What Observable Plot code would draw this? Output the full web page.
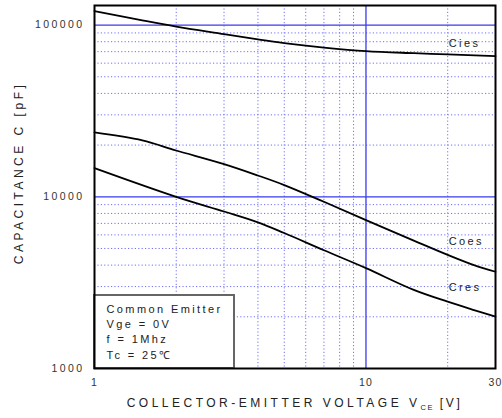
<!DOCTYPE html>
<html><head><meta charset="utf-8">
<script src="https://cdn.jsdelivr.net/npm/d3@7"></script>
<script src="https://cdn.jsdelivr.net/npm/@observablehq/plot@0.6"></script>
<style>body{margin:0;background:#fff}</style>
</head><body><div id="chart"></div>
<script>
// ---- data ----
const xTicks = [1, 10, 30];
const yTicks = [1000, 10000, 100000];
const xMajor = [10];
const yMajor = [10000, 100000];
const xMinor = [2, 3, 4, 5, 6, 7, 8, 9, 20];
const yMinor = [2000, 3000, 4000, 5000, 6000, 7000, 8000, 9000, 20000, 30000, 40000, 50000, 60000, 70000, 80000, 90000];

const ciesV = [1, 1.5, 2, 3, 4, 5, 7, 10, 15, 20, 30];
const ciesC = [120700, 106500, 98000, 88600, 82500, 78500, 74000, 70500, 68600, 67500, 66000];
const coesV = [1, 1.5, 2, 3, 4, 5, 7, 10, 15, 20, 25, 30];
const coesC = [23700, 21300, 18600, 15500, 13300, 11700, 9350, 7310, 5560, 4590, 4000, 3660];
const cresV = [1, 2, 3, 4, 5, 7, 10, 15, 20, 25, 30];
const cresC = [14700, 10000, 8210, 7100, 6150, 4880, 3840, 2870, 2450, 2190, 2006];

const labelNames = ["Cies", "Coes", "Cres"];
const labelV = [20, 20, 20];
const labelC = [78500, 5520, 2950];

const legendLines = ["Common Emitter", "Vge = 0V", "f = 1Mhz", "Tc = 25\u2103"];
const xTitle = ["COLLECTOR-EMITTER VOLTAGE V", "CE", " [V]"];
const yTitle = "CAPACITANCE C [pF]";

// ---- build ----
const series = [
  ...ciesV.map((v, i) => ({s: "Cies", v, c: ciesC[i]})),
  ...coesV.map((v, i) => ({s: "Coes", v, c: coesC[i]})),
  ...cresV.map((v, i) => ({s: "Cres", v, c: cresC[i]}))
];
const labels = labelNames.map((n, i) => ({n, v: labelV[i], c: labelC[i]}));

const W = 502, H = 418, mL = 94, mR = 7, mT = 5, mB = 50;
const FONT = "'Liberation Sans', Arial, Helvetica, sans-serif";

const chart = Plot.plot({
  width: W, height: H,
  marginLeft: mL, marginRight: mR, marginTop: mT, marginBottom: mB,
  style: {fontFamily: FONT, fontSize: "10.5px", color: "#333", background: "#fff", letterSpacing: "2.4px", overflow: "visible"},
  x: {type: "log", domain: [1, 30]},
  y: {type: "log", domain: [1000, 130000]},
  marks: [
    Plot.ruleX(xMinor, {stroke: "#6f6fff", strokeDasharray: "1.2,2.2", strokeWidth: 1}),
    Plot.ruleY(yMinor, {stroke: "#6f6fff", strokeDasharray: "1.2,2.2", strokeWidth: 1}),
    Plot.ruleX(xMajor, {stroke: "#3a3af0", strokeWidth: 1.3}),
    Plot.ruleY(yMajor, {stroke: "#3a3af0", strokeWidth: 1.3}),
    Plot.axisX({ticks: xTicks, tickFormat: d => String(d), tickSize: 0, tickPadding: 10, label: null}),
    Plot.axisY({ticks: yTicks, tickFormat: d => String(d), tickSize: 0, tickPadding: 10, label: null}),
    Plot.line(series, {x: "v", y: "c", z: "s", stroke: "#000", strokeWidth: 1.8, curve: "catmull-rom"}),
    Plot.text(labels, {x: "v", y: "c", text: "n", textAnchor: "start", fill: "#222", fontSize: 11, dx: 1}),
    Plot.frame({stroke: "#000", strokeWidth: 2})
  ]
});

const svg = d3.select(chart);
// tighter spacing on x tick labels so "30" fits
svg.selectAll('[aria-label="x-axis tick label"] text').attr("letter-spacing", "1.2px");

// legend box
const boxTop = H - mB - 73;
const g = svg.append("g").attr("text-anchor", "start");
g.append("rect").attr("x", mL).attr("y", boxTop).attr("width", 140).attr("height", 73)
  .attr("fill", "#fff").attr("stroke", "#666").attr("stroke-width", 2);
const baseOff = [18, 32.5, 48.3, 64.3];
legendLines.forEach((t, i) => {
  g.append("text").attr("x", mL + 12.5).attr("y", boxTop + baseOff[i]).attr("text-anchor", "start")
    .attr("fill", "#222").attr("font-size", 11).attr("letter-spacing", "2.4px").text(t);
});
svg.select('[aria-label="frame"]').raise();

// x title
const xt = svg.append("text").attr("x", (mL + W - mR) / 2).attr("y", H - 11)
  .attr("text-anchor", "middle").attr("fill", "#222").attr("font-size", 12).attr("letter-spacing", "3.5px");
xt.append("tspan").text(xTitle[0]);
xt.append("tspan").attr("font-size", 7.5).attr("dy", 3).attr("letter-spacing", "1.5px").text(xTitle[1]);
xt.append("tspan").attr("dy", -3).attr("letter-spacing", "2.6px").text(xTitle[2]);

// y title
svg.append("text").attr("transform", "translate(23,173) rotate(-90)")
  .attr("text-anchor", "middle").attr("fill", "#222").attr("font-size", 12).attr("letter-spacing", "3.5px")
  .text(yTitle);

document.getElementById("chart").appendChild(chart);
</script>
</body></html>
